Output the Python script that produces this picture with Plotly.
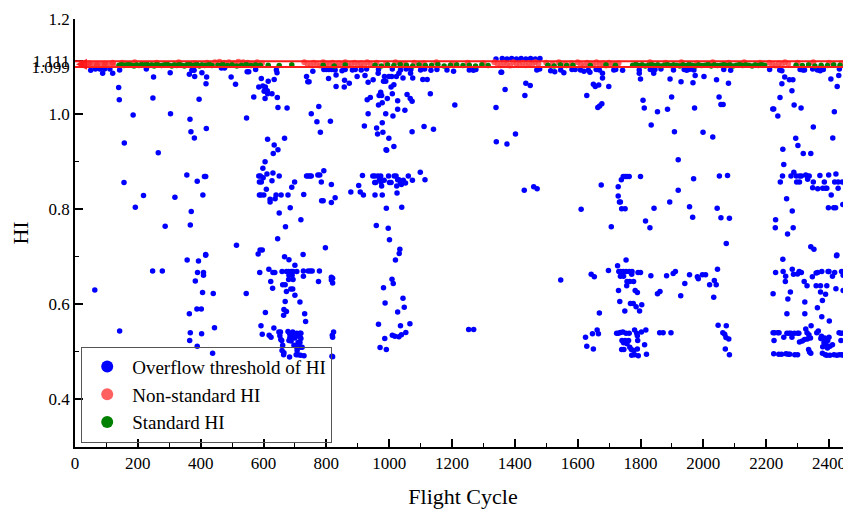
import plotly.graph_objects as go

# ---------------- data ----------------
overflow_left = [
    (50,1.092),(65,1.095),(79,1.095),(94,1.095),(111,1.095),(88,1.086),(120,1.086),(142,1.093),(139,1.056),(141,1.030),
    (185,0.998),(157,0.939),(156,0.856),(218,0.829),(192,0.804),(227,1.095),(250,1.078),(248,1.034),(265,0.919),(287,0.764),
    (303,1.087),(304,1.001),(318,0.825),(356,0.872),(364,1.084),(372,1.092),(379,1.092),(381,1.079),(366,0.989),(369,0.963),
    (380,0.950),(370,0.795),(367,0.767),(389,0.859),(404,1.087),(419,1.078),(417,1.064),(395,1.031),(418,0.970),(412,0.869),
    (416,0.869),(407,0.830),(416,0.705),(466,1.097),(476,1.097),(497,1.078),(511,1.063),(546,0.992),(514,0.724),(548,1.089),
    (553,1.089),(575,1.094),(593,1.075),(585,1.057),(598,1.059),(606,1.057),(615,1.069),(634,1.073),(641,1.093),(643,1.087),
    (612,1.049),(602,1.048),(613,1.043),(627,1.043),(569,1.036),(605,1.033),(644,1.035),(646,1.014),(675,1.013),(613,0.947),
    (667,0.949),(634,0.935),(646,0.925),(631,0.917),(605,0.900),(598,0.886),(611,0.874),(585,0.870),(590,0.870),(599,0.866),
    (630,0.876),(650,0.870),(587,0.857),(593,0.857),(627,0.860),(609,0.842),(587,0.830),(592,0.830),(601,0.830),(621,0.821),
    (621,0.815),(640,0.830),(637,0.822),(656,0.830),(678,0.830),(699,0.857),(690,0.846),(685,0.803),(650,0.792),(670,0.763),
    (645,0.738),(589,0.714),(596,0.714),(583,0.706),(719,0.778),(728,0.831),(737,0.870),(742,0.870),(748,0.870),(752,0.870),
    (773,0.872),(779,0.872),(792,0.881),(784,0.857),(785,0.818),(790,0.818),(816,0.852),(816,0.814),(797,0.719),(726,0.705),
    (752,1.001),(770,0.984),(776,1.016),(781,0.962),(813,0.985),(737,1.079),(741,1.068),(745,1.068),(757,1.090),(792,1.094),
    (800,1.094),(808,1.094),(817,1.094),(807,1.075),
]
overflow_left_low = [
    (63,0.630),(142,0.544),(247,0.670),(278,0.670),(357,0.693),(393,0.691),(416,0.703),(390,0.667),(409,0.667),(409,0.661),
    (383,0.649),(406,0.625),(440,0.623),(364,0.580),(388,0.590),(402,0.590),(367,0.540),(403,0.538),(444,0.551),(365,0.524),
    (389,0.512),(438,0.497),(545,0.623),(588,0.667),(606,0.583),(592,0.555),(596,0.537),(617,0.674),(630,0.667),(636,0.667),
    (623,0.648),(629,0.634),(618,0.535),(624,0.531),(633,0.550),(667,0.700),(681,0.694),(659,0.669),(673,0.669),(680,0.669),
    (688,0.669),(694,0.669),(706,0.669),(700,0.682),(727,0.670),(742,0.670),(749,0.670),(755,0.670),(778,0.670),(727,0.659),
    (775,0.648),(681,0.661),(691,0.661),(680,0.652),(694,0.652),(661,0.641),(669,0.641),(687,0.632),(693,0.632),(673,0.627),
    (700,0.619),(716,0.605),(669,0.606),(665,0.589),(673,0.585),(664,0.577),(731,0.580),(734,0.564),
    (649,0.542),(654,0.542),(652,0.534),(678,0.543),(683,0.538),(690,0.538),(693,0.542),(699,0.536),(703,0.538),(706,0.539),
    (710,0.538),(716,0.539),(719,0.539),(684,0.530),(693,0.530),(700,0.529),(710,0.534),(717,0.531),(719,0.528),(655,0.526),
    (658,0.524),(681,0.524),(688,0.523),(710,0.520),(716,0.520),(661,0.514),(697,0.514),(706,0.510),(718,0.510),(723,0.510),
    (659,0.503),(665,0.498),(664,0.494),(683,0.489),(704,0.494),(710,0.494),(718,0.493),(729,0.492),(707,0.503),
    (816,0.657),(816,0.651),(819,0.535),(818,0.491),
]
overflow_mid = [
    (828,1.093),(850,1.091),(860,1.094),(883,1.093),(892,1.094),(911,1.093),(928,1.095),(966,1.094),(1010,1.095),(1036,1.093),
    (1054,1.095),(1069,1.094),(1100,1.093),(1113,1.095),(1133,1.092),(1152,1.094),(1184,1.093),(1205,1.090),(1255,1.093),(1268,1.092),
    (1276,1.094),(1358,1.088),(1470,1.093),(1479,1.095),(1514,1.091),(1546,1.093),(1582,1.094),(1592,1.094),(1609,1.093),(1634,1.092),
    (1659,1.094),(1669,1.093),(1527,1.089),(1556,1.087),(1620,1.090),
    (831,1.082),(858,1.071),(873,1.065),(857,1.057),(831,1.058),(898,1.079),(923,1.081),(949,1.072),(933,1.067),(965,1.086),
    (985,1.079),(999,1.079),(1008,1.079),(982,1.069),(989,1.069),(1023,1.079),(1031,1.086),(1044,1.076),(1068,1.086),(1075,1.076),
    (1015,1.062),(1006,1.057),(1010,1.043),(994,1.033),(973,1.046),(968,1.039),(976,1.039),(940,1.035),(930,1.030),(1027,1.028),
    (1057,1.041),(1067,1.033),(1073,1.027),(966,1.019),(978,1.024),(1050,1.008),(1027,1.010),(989,1.001),(1012,0.996),(933,1.001),
    (921,0.975),(960,0.971),(978,0.982),(963,0.958),(980,0.962),(999,0.949),(1015,0.932),(990,0.925),(992,0.924),(1073,0.963),
    (1111,0.974),(1141,0.968),(1131,1.043),(1107,1.073),(1121,1.073),(1209,1.019),(1340,1.014),(1369,1.052),(1356,1.088),(1435,1.065),
    (1449,1.060),(1432,1.039),(1402,0.958),(1341,0.942),(1375,0.937),(1430,0.840),(1460,0.847),(1471,0.843),(1611,0.800),(1629,1.039),
    (1650,1.063),(1656,1.058),(1667,1.061),(1664,1.014),(1670,1.017),(1639,1.088),
    (1340,1.116),(1360,1.117),(1375,1.116),(1390,1.117),(1405,1.116),(1420,1.117),(1435,1.116),(1450,1.117),(1465,1.116),(1480,1.117),
]
overflow_mid_low = [
    (915,0.871),(948,0.870),(954,0.870),(964,0.870),(973,0.870),(984,0.861),(998,0.870),(1016,0.870),(1022,0.870),(969,0.862),
    (1027,0.862),(1031,0.862),(1045,0.861),(1061,0.870),(1099,0.878),(1114,0.862),(1074,0.861),(957,0.856),(954,0.856),(974,0.857),
    (976,0.849),(1001,0.856),(1006,0.856),(1036,0.855),(1039,0.852),(1024,0.849),(1052,0.855),(903,0.850),(878,0.836),(908,0.836),
    (918,0.830),(955,0.830),(978,0.830),(1025,0.834),(828,0.824),(991,0.802),(1040,0.804),(959,0.766),(997,0.760),(1001,0.736),
    (1034,0.716),(1032,0.707),(1020,0.693),(1009,0.653),(1013,0.644),(982,0.635),(987,0.603),(1044,0.613),(1048,0.594),(1027,0.584),
    (966,0.558),(1036,0.555),(1066,0.559),(1010,0.535),(1018,0.533),(1031,0.532),(1039,0.536),(1053,0.541),(986,0.528),(971,0.509),
    (991,0.505),(1253,0.547),(1269,0.547),(1546,0.651),(1643,0.663),(1653,0.658),(1669,0.582),(1662,0.546),(1666,0.538),(1647,0.538),
    (1625,0.531),(1629,0.512),(1650,0.506),(820,0.655),(820,0.645),(823,0.542),(820,0.531),(820,0.490),
]
overflow_right = [
    (1715,1.093),(1721,1.094),(1743,1.092),(1796,1.093),(1831,1.094),(1839,1.093),(1846,1.094),(1865,1.095),(1905,1.093),(1939,1.094),
    (1947,1.092),(1953,1.094),(1960,1.095),(1970,1.093),(2065,1.094),(2087,1.092),(2211,1.094),(2243,1.093),(2250,1.091),(2308,1.094),
    (2317,1.093),(2322,1.093),(2348,1.095),(2363,1.093),(2372,1.091),(2382,1.094),(2433,1.095),
    (1679,1.086),(1679,1.076),(1699,1.058),(1800,1.074),(1796,1.086),(1842,1.086),(1894,1.074),(1929,1.068),(1974,1.081),(1967,1.066),
    (2002,1.079),(2042,1.072),(2080,1.065),(2259,1.078),(2250,1.064),(2274,1.072),(2285,1.072),(2282,1.049),(2244,1.035),(2406,1.074),
    (2431,1.081),(2426,1.058),(1808,1.029),(1812,1.013),(1854,1.005),(1886,1.010),(1899,1.036),(1972,1.013),(2050,1.036),(2056,1.020),
    (2063,1.020),(2221,1.011),(2224,1.011),(2237,0.996),(2289,1.019),(2311,1.013),(2417,1.005),(1677,1.022),(1834,0.977),(1908,0.963),
    (1999,0.962),(2030,0.952),(2350,0.973),(2412,0.950),(2294,0.949),(2301,0.934),(2253,0.926),(2318,0.917),(2342,0.917),(1920,0.904),
    (2256,0.894),(2288,0.878),(1745,0.869),(1751,0.869),(1757,0.869),(1764,0.869),(1739,0.862),(1800,0.869),(1729,0.847),(1729,0.828),
    (1733,0.815),(1736,0.815),(1740,0.801),(1751,0.801),(1675,0.851),(1707,0.763),(1816,0.775),(1830,0.761),(1843,0.802),(1893,0.815),
    (1920,0.840),(1969,0.864),(1956,0.805),(1966,0.783),(2051,0.870),(2077,0.871),(2044,0.802),(2056,0.782),(2083,0.781),(2073,0.728),
    (2230,0.778),(2229,0.761),(2268,0.748),(2286,0.761),(2265,0.822),(2283,0.796),(2245,0.857),(2252,0.870),(2279,0.870),(2296,0.870),
    (2306,0.870),(2312,0.870),(2326,0.872),(2331,0.870),(2337,0.870),(2297,0.857),(2306,0.857),(2332,0.863),(2350,0.857),(2371,0.871),
    (2399,0.872),(2422,0.874),(2385,0.857),(2418,0.857),(2429,0.857),(2442,0.857),(2453,0.851),(2348,0.845),(2364,0.843),(2380,0.844),
    (2389,0.844),(2393,0.844),(2429,0.844),(2407,0.830),(2444,0.810),(2398,0.803),(2415,0.803),(2421,0.803),(2342,0.721),(2352,0.716),
    (2425,0.704),
]
overflow_right_low = [
    (1698,0.671),(1727,0.681),(1754,0.693),(1731,0.669),(1737,0.669),(1745,0.669),(1754,0.669),(1764,0.669),(1773,0.669),(1736,0.659),
    (1746,0.659),(1772,0.663),(1757,0.648),(1766,0.648),(1778,0.648),(1756,0.639),(1730,0.629),(1783,0.629),(1790,0.625),(1792,0.667),
    (1800,0.667),(1734,0.606),(1768,0.602),(1777,0.602),(1786,0.595),(1804,0.599),(1750,0.586),(1797,0.586),(1833,0.660),(1883,0.660),
    (1904,0.665),(1911,0.669),(1956,0.662),(1941,0.644),(1928,0.618),(1854,0.622),(1862,0.627),(1981,0.658),(1984,0.654),(1997,0.662),
    (2007,0.662),(2020,0.641),(2035,0.650),(2041,0.641),(2045,0.674),(2033,0.615),
    (1724,0.539),(1730,0.539),(1736,0.541),(1744,0.542),(1754,0.539),(1764,0.539),(1781,0.546),(1788,0.539),(1790,0.534),(1803,0.542),
    (1817,0.546),(1741,0.524),(1751,0.524),(1762,0.524),(1746,0.519),(1757,0.517),(1766,0.510),(1771,0.505),(1779,0.503),(1790,0.506),
    (1740,0.505),(1747,0.505),(1772,0.493),(1781,0.494),(1793,0.492),(1791,0.524),(1813,0.515),(1819,0.495),(1861,0.540),(1872,0.540),
    (1897,0.540),(2047,0.556),(2073,0.555),(2062,0.540),(2068,0.537),(2072,0.530),(2081,0.527),(2070,0.506),(2083,0.494),
    (2253,0.695),(2424,0.702),(2230,0.667),(2254,0.669),(2262,0.659),(2283,0.674),(2287,0.663),(2300,0.664),(2305,0.669),(2312,0.667),
    (2261,0.648),(2321,0.648),(2330,0.639),(2347,0.658),(2359,0.666),(2364,0.667),(2377,0.669),(2397,0.669),(2400,0.669),(2418,0.667),
    (2440,0.669),(2445,0.661),(2411,0.659),(2359,0.639),(2373,0.639),(2393,0.639),(2422,0.633),(2445,0.629),(2373,0.626),(2389,0.621),
    (2277,0.626),(2222,0.622),(2269,0.611),(2379,0.608),(2323,0.605),(2363,0.593),(2266,0.580),(2323,0.580),(2377,0.574),(2401,0.565),
    (2222,0.540),(2227,0.540),(2237,0.540),(2241,0.540),(2266,0.539),(2273,0.539),(2279,0.539),(2290,0.539),(2300,0.539),(2304,0.539),
    (2326,0.548),(2330,0.540),(2336,0.536),(2343,0.555),(2366,0.544),(2361,0.540),(2376,0.533),(2374,0.528),(2386,0.529),(2400,0.531),
    (2432,0.540),(2438,0.539),(2447,0.540),(2452,0.539),(2225,0.524),(2256,0.531),(2282,0.531),(2306,0.521),(2315,0.523),(2322,0.526),
    (2331,0.527),(2341,0.529),(2380,0.511),(2390,0.517),(2395,0.508),(2403,0.512),(2411,0.515),(2384,0.520),(2396,0.524),(2438,0.524),
    (2335,0.505),(2338,0.500),(2342,0.497),(2224,0.496),(2240,0.495),(2249,0.495),(2263,0.496),(2270,0.495),(2275,0.495),(2291,0.494),
    (2300,0.494),(2379,0.497),(2388,0.494),(2393,0.493),(2403,0.493),(2416,0.494),(2425,0.493),(2433,0.494),(2440,0.494),(2446,0.493),
    (2453,0.493),
]

nonstandard_x = [
    20, 45, 70, 95, 120, 150, 190, 260, 330, 380, 420,
    445, 460, 475, 490, 505, 520, 535, 550, 565, 580, 595,
    730, 740, 750, 760, 770, 780, 790, 800, 810, 820, 830, 840, 850, 860, 870, 880, 890, 900, 910, 920, 930, 940,
    960, 990, 1020, 1050, 1080, 1110, 1150, 1200, 1250, 1300,
    1335, 1345, 1355, 1365, 1375, 1385, 1395, 1405, 1415, 1425, 1435, 1445, 1455, 1465, 1475,
    1500, 1520, 1540, 1560, 1580,
    1600, 1610, 1620, 1630, 1640, 1650, 1660, 1670, 1680, 1690, 1700, 1710, 1720, 1730,
    1830, 1880, 1930, 1980, 2030, 2080, 2130, 2180,
    2210, 2220, 2230, 2240, 2250, 2260, 2270,
    2300, 2350, 2400, 2440, 2455, 2465,
]
nonstandard_y = [
    1.105, 1.107, 1.104, 1.106, 1.108, 1.108, 1.109, 1.108, 1.109, 1.107, 1.108,
    1.109, 1.110, 1.108, 1.109, 1.107, 1.110, 1.109, 1.108, 1.106, 1.109, 1.107,
    1.109, 1.106, 1.103, 1.108, 1.105, 1.102, 1.109, 1.106, 1.104, 1.108, 1.103, 1.107, 1.105, 1.109, 1.102, 1.106, 1.108, 1.104, 1.107, 1.103, 1.109, 1.105,
    1.108, 1.106, 1.109, 1.105, 1.108, 1.107, 1.109, 1.106, 1.108, 1.107,
    1.109, 1.106, 1.103, 1.108, 1.105, 1.102, 1.109, 1.106, 1.104, 1.108, 1.103, 1.107, 1.105, 1.109, 1.106,
    1.108, 1.105, 1.109, 1.106, 1.107,
    1.109, 1.105, 1.102, 1.108, 1.106, 1.103, 1.109, 1.104, 1.107, 1.102, 1.108, 1.105, 1.103, 1.107,
    1.109, 1.108, 1.109, 1.107, 1.109, 1.108, 1.109, 1.108,
    1.108, 1.105, 1.102, 1.107, 1.104, 1.109, 1.106,
    1.108, 1.109, 1.108, 1.107, 1.104, 1.108,
]
standard_x = [
    140, 148, 156, 164, 172, 180, 188, 196, 204, 212, 220, 228, 236, 244, 252, 260, 268, 276, 284,
    292, 300, 308, 316, 324, 332, 340, 348, 356, 364, 372, 380, 388, 396, 404, 412, 420, 428, 436,
    455, 470, 485, 500, 515, 530, 545, 560, 575, 590,
    615, 650, 690, 790, 825, 860,
    955, 975, 995, 1015, 1035, 1055, 1075, 1095, 1115, 1135, 1155, 1175, 1195, 1215, 1235, 1255, 1275, 1295, 1315,
    1505, 1525, 1545, 1565, 1585, 1640, 1690, 1720,
    1775, 1785, 1795, 1805, 1815, 1825, 1835, 1845, 1855, 1865, 1875, 1885, 1895, 1905, 1915, 1925, 1935,
    1945, 1955, 1965, 1975, 1985, 1995, 2005, 2015, 2025, 2035, 2045, 2055, 2065, 2075, 2085, 2095, 2105,
    2115, 2125, 2135, 2145, 2155, 2165, 2175, 2185, 2195,
    2295, 2315, 2335, 2355, 2375, 2395, 2415, 2435,
]
standard_y = [
    1.103, 1.105, 1.102, 1.104, 1.106, 1.103, 1.101, 1.104, 1.102, 1.105, 1.103, 1.106, 1.102, 1.104, 1.101, 1.105, 1.103, 1.102, 1.104,
    1.106, 1.103, 1.101, 1.104, 1.102, 1.105, 1.103, 1.101, 1.104, 1.106, 1.102, 1.103, 1.105, 1.101, 1.104, 1.102, 1.103, 1.105, 1.102,
    1.103, 1.105, 1.102, 1.104, 1.101, 1.103, 1.105, 1.102, 1.104, 1.103,
    1.103, 1.102, 1.104, 1.103, 1.101, 1.104,
    1.103, 1.101, 1.104, 1.102, 1.105, 1.103, 1.101, 1.104, 1.102, 1.103, 1.105, 1.101, 1.103, 1.104, 1.102, 1.103, 1.101, 1.104, 1.102,
    1.103, 1.101, 1.104, 1.102, 1.103, 1.102, 1.104, 1.103,
    1.103, 1.105, 1.102, 1.104, 1.101, 1.103, 1.105, 1.102, 1.104, 1.101, 1.103, 1.105, 1.102, 1.104, 1.103, 1.101, 1.104,
    1.102, 1.105, 1.103, 1.101, 1.104, 1.102, 1.103, 1.105, 1.101, 1.104, 1.102, 1.103, 1.105, 1.102, 1.104, 1.101, 1.103,
    1.105, 1.102, 1.104, 1.103, 1.101, 1.104, 1.102, 1.105, 1.103,
    1.103, 1.102, 1.104, 1.101, 1.103, 1.102, 1.104, 1.103,
]

threshold_upper = 1.111
threshold_lower = 1.099
y_tick_vals = [0.4, 0.6, 0.8, 1.0, 1.099, 1.111, 1.2]
y_tick_text = ["0.4", "0.6", "0.8", "1.0", "1.099", "1.111", "1.2"]
x_tick_vals = [0, 200, 400, 600, 800, 1000, 1200, 1400, 1600, 1800, 2000, 2200, 2400]

overflow_groups = [overflow_left, overflow_left_low, overflow_mid, overflow_mid_low,
                   overflow_right, overflow_right_low]
blue_x = [p[0] for g in overflow_groups for p in g]
blue_y = [p[1] for g in overflow_groups for p in g]

FONT = "Liberation Serif"
mid_band = (threshold_upper + threshold_lower) / 2

fig = go.Figure()
fig.add_trace(go.Scatter(x=blue_x, y=blue_y, mode="markers", name="Overflow threshold of HI",
                         marker=dict(color="#0000FF", size=5.5)))
fig.add_trace(go.Scatter(x=nonstandard_x, y=nonstandard_y, mode="markers", name="Non-standard HI",
                         marker=dict(color="#FF4545", size=6, opacity=0.85)))
fig.add_trace(go.Scatter(x=standard_x, y=standard_y, mode="markers", name="Standard HI",
                         marker=dict(color="#008000", size=5.5)))

# threshold lines
for yv in (threshold_upper, threshold_lower):
    fig.add_shape(type="line", xref="x", yref="y", x0=0, x1=2470, y0=yv, y1=yv,
                  line=dict(color="#FF1A1A", width=2))
# arrow on the left end of the band
fig.add_shape(type="rect", xref="x", yref="y", x0=35, x1=130,
              y0=threshold_lower, y1=threshold_upper,
              fillcolor="rgba(255,40,40,0.8)", line=dict(width=0))
fig.add_shape(type="path", xref="x", yref="y",
              path=f"M 3,{mid_band} L 38,{mid_band + 0.0115} L 38,{mid_band - 0.0115} Z",
              fillcolor="rgba(255,20,20,0.95)", line=dict(width=0))

# page has an 8px body margin: figure is offset by (8, 8)
fig.update_layout(
    width=843, height=504,
    margin=dict(l=63, r=0, t=11, b=65),
    paper_bgcolor="white", plot_bgcolor="white",
    font=dict(family=FONT, size=17, color="black"),
    showlegend=True,
    legend=dict(x=0.008, y=0.01, xanchor="left", yanchor="bottom",
                bordercolor="#555555", borderwidth=1, bgcolor="rgba(255,255,255,0)",
                font=dict(family=FONT, size=19), itemsizing="constant",
                tracegroupgap=0, itemwidth=40),
    xaxis=dict(range=[0, 2470], showgrid=False, zeroline=False,
               showline=True, linecolor="black", linewidth=1.5,
               ticks="inside", ticklen=8, tickwidth=1.5, tickcolor="black",
               tickvals=x_tick_vals,
               minor=dict(ticks="inside", ticklen=4, tickwidth=1.2, tickcolor="black", dtick=100, tick0=0),
               title=dict(text="Flight Cycle", font=dict(family=FONT, size=22), standoff=16),
               tickfont=dict(family=FONT, size=17)),
    yaxis=dict(range=[0.3, 1.2], showgrid=False, zeroline=False,
               showline=True, linecolor="black", linewidth=1.5,
               ticks="inside", ticklen=8, tickwidth=1.5, tickcolor="black",
               tickvals=y_tick_vals, ticktext=y_tick_text,
               minor=dict(ticks="inside", ticklen=4, tickwidth=1.2, tickcolor="black", dtick=0.1, tick0=0),
               title=dict(text="HI", font=dict(family=FONT, size=22), standoff=8),
               tickfont=dict(family=FONT, size=17)),
)

fig.write_html("out.html")
